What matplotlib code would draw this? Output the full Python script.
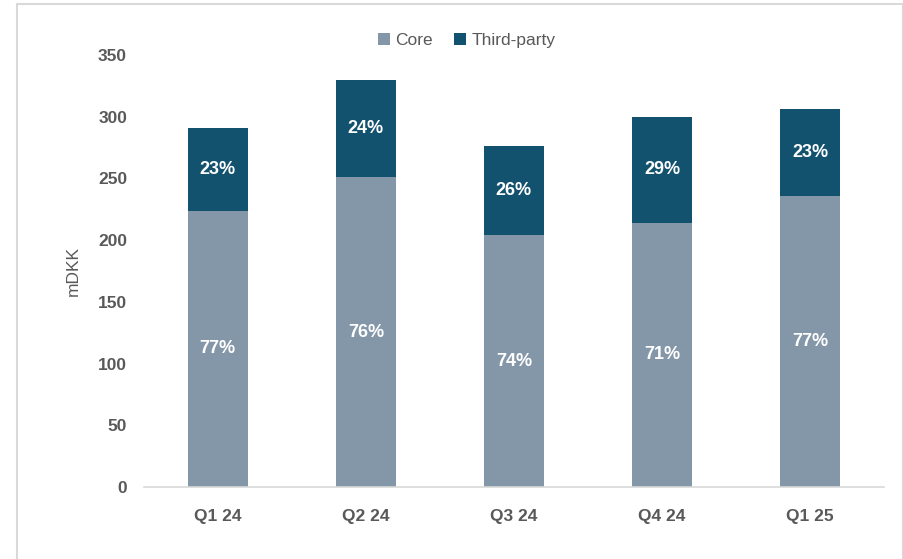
import matplotlib.pyplot as plt
from matplotlib.patches import Rectangle
import numpy as np

plt.rcParams['font.family'] = ['Liberation Sans', 'DejaVu Sans']

quarters = ['Q1 24', 'Q2 24', 'Q3 24', 'Q4 24', 'Q1 25']
core = [224, 251, 204, 214, 236]
third_party = [67, 79, 72, 86, 70]

core_color = '#8497a9'
third_color = '#13526f'
text_color = '#595959'

fig = plt.figure(figsize=(9.04, 5.59), dpi=100)
ax = fig.add_axes([0.159, 0.1288, 0.819, 0.7728])

# thin frame around the whole chart area
fig.patches.append(Rectangle((17 / 904, -0.05), (903 - 17) / 904, 1.05 - 4 / 559,
                             transform=fig.transFigure, fill=False,
                             edgecolor='#d9d9d9', linewidth=1.5))

x = np.arange(len(quarters))
core = np.array(core)
third_party = np.array(third_party)
total = core + third_party
width = 0.405

b1 = ax.bar(x, core, width, color=core_color, label='Core')
b2 = ax.bar(x, third_party, width, bottom=core, color=third_color, label='Third-party')

for i in range(len(x)):
    ax.text(x[i], core[i] / 2, f'{round(100 * core[i] / total[i])}%',
            ha='center', va='center', color='white', fontsize=13, fontweight='bold')
    ax.text(x[i], core[i] + third_party[i] / 2, f'{round(100 * third_party[i] / total[i])}%',
            ha='center', va='center', color='white', fontsize=13, fontweight='bold')

ax.set_xlim(-0.5, len(x) - 0.5)
ax.set_ylim(0, 350)
ax.set_yticks(np.arange(0, 351, 50))
ax.set_xticks(x)
ax.set_xticklabels(quarters)
for lbl in ax.get_xticklabels() + ax.get_yticklabels():
    lbl.set_fontweight('bold')
    lbl.set_fontsize(12.5)
    lbl.set_color(text_color)
ax.tick_params(axis='both', length=0)
ax.tick_params(axis='x', pad=16)
ax.tick_params(axis='y', pad=12)

for side in ['top', 'right', 'left']:
    ax.spines[side].set_visible(False)
ax.spines['bottom'].set_color('#d9d9d9')
ax.spines['bottom'].set_linewidth(1.2)

ax.set_ylabel('mDKK', fontsize=12.5, color=text_color, labelpad=12)

leg = ax.legend(handles=[b1, b2], loc='upper center', bbox_to_anchor=(0.436, 1.087),
                ncol=2, frameon=False, fontsize=12.5, handlelength=0.7, handleheight=0.7,
                handletextpad=0.3, columnspacing=1.2)
for t in leg.get_texts():
    t.set_color(text_color)

fig.savefig('out.png', dpi=100)
